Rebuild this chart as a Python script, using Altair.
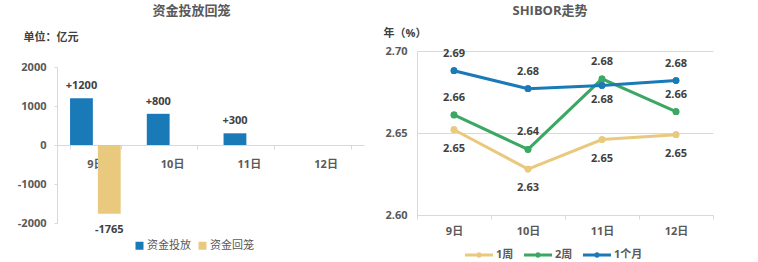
import altair as alt
import pandas as pd

# ---------------- data ----------------
dates = ["9日", "10日", "11日", "12日"]

flow_series = ["资金投放", "资金回笼"]
invest = [1200, 800, 300, None]
withdraw = [-1765, None, None, None]
flow_colors = ["#1a7ab8", "#e8c97e"]
flow_ticks = [-2000, -1000, 0, 1000, 2000]

shibor_series = ["1周", "2周", "1个月"]
week1 = [2.652, 2.628, 2.646, 2.649]
week2 = [2.661, 2.640, 2.683, 2.663]
month1 = [2.688, 2.677, 2.679, 2.682]
shibor_colors = ["#e8c97e", "#3aa862", "#1a7ab8"]
shibor_ticks = [2.60, 2.65, 2.70]

# ---------------- tables ----------------
flow_rows = []
for name, vals in zip(flow_series, [invest, withdraw]):
    for d, v in zip(dates, vals):
        if v is not None:
            flow_rows.append({"date": d, "series": name, "value": v})
flow_df = pd.DataFrame(flow_rows)

sh_rows = []
for name, vals in zip(shibor_series, [week1, week2, month1]):
    for d, v in zip(dates, vals):
        sh_rows.append({"date": d, "series": name, "value": v})
sh_df = pd.DataFrame(sh_rows)

FONT = "Open Sans, Noto Sans CJK SC"
TXT = "#595959"
LBL = "#404040"
GRID = "#d9d9d9"

# ---------------- left chart ----------------
xL = alt.X(
    "date:N", sort=dates,
    scale=alt.Scale(domain=dates, paddingInner=0.34, paddingOuter=0.17),
    axis=alt.Axis(title=None, orient="bottom", offset=-78, tickBand="extent",
                  tickSize=4, labelPadding=9, domainColor=GRID, tickColor=GRID,
                  labelAngle=0, labelFontSize=11, labelFontWeight="bold",
                  labelColor=TXT, labelFont=FONT),
)
yL = alt.Y(
    "value:Q",
    scale=alt.Scale(domain=[-2000, 2000], range=[172, 16], nice=False, zero=False),
    axis=alt.Axis(values=flow_ticks, labelExpr="'' + datum.value", grid=False,
                  tickSize=3, labelPadding=8, domainColor=GRID, tickColor=GRID,
                  labelFontSize=11, labelFontWeight="bold", labelColor=TXT,
                  labelFont=FONT,
                  title="单位：亿元", titleAngle=0, titleX=-34, titleY=-14,
                  titleAlign="left", titleBaseline="middle", titleFontSize=11,
                  titleFontWeight="bold", titleColor="#404040", titleFont=FONT),
)
xoL = alt.XOffset("series:N", sort=flow_series,
                  scale=alt.Scale(domain=flow_series, paddingInner=0.18))
colL = alt.Color(
    "series:N", sort=flow_series,
    scale=alt.Scale(domain=flow_series, range=flow_colors),
    legend=alt.Legend(title=None, orient="none", legendX=77, legendY=189,
                      direction="horizontal", symbolType="square", symbolSize=64,
                      symbolStrokeWidth=0, labelFontSize=11, labelColor=TXT,
                      labelFont=FONT, columnPadding=6, labelOffset=2),
)

base_left = alt.Chart(flow_df).transform_calculate(
    lab="datum.value > 0 ? '+' + datum.value : '' + datum.value"
)
bars = base_left.mark_bar().encode(x=xL, y=yL, xOffset=xoL, color=colL)
lab_pos = base_left.transform_filter("datum.value > 0").mark_text(
    baseline="bottom", dy=-7, fontSize=11, fontWeight="bold", color=LBL, font=FONT
).encode(x=xL, y=yL, xOffset=xoL, text="lab:N")
lab_neg = base_left.transform_filter("datum.value < 0").mark_text(
    baseline="top", dy=10, fontSize=11, fontWeight="bold", color=LBL, font=FONT
).encode(x=xL, y=yL, xOffset=xoL, text="lab:N")

left = alt.layer(bars, lab_pos, lab_neg).properties(
    width=307, height=172,
    title=alt.TitleParams("资金投放回笼", fontSize=13, fontWeight="bold",
                          color=TXT, font=FONT, dx=-19, offset=13),
)

# ---------------- right chart ----------------
xR = alt.X(
    "date:N", sort=dates, bandPosition=0.5,
    scale=alt.Scale(type="band", domain=dates, paddingInner=0, paddingOuter=0),
    axis=alt.Axis(title=None, tickBand="extent", tickSize=4, labelPadding=6,
                  domainColor=GRID, tickColor=GRID, labelAngle=0,
                  labelFontSize=11, labelFontWeight="bold", labelColor=TXT,
                  labelFont=FONT),
)
yR = alt.Y(
    "value:Q",
    scale=alt.Scale(domain=[2.60, 2.70], nice=False, zero=False),
    axis=alt.Axis(values=shibor_ticks, format=".2f", grid=True, gridColor=GRID,
                  tickSize=0, labelPadding=10, domainColor=GRID,
                  labelFontSize=11, labelFontWeight="bold", labelColor=TXT,
                  labelFont=FONT,
                  title="年（%）", titleAngle=0, titleX=-34, titleY=-18,
                  titleAlign="left", titleBaseline="middle", titleFontSize=11,
                  titleFontWeight="bold", titleColor="#404040", titleFont=FONT),
)
leg_path = ("M-1,-0.1L1,-0.1L1,0.1L-1,0.1Z "
            "M-0.2,0A0.2,0.2 0 1,1 0.2,0A0.2,0.2 0 1,1 -0.2,0Z")
colR_scale = alt.Scale(domain=shibor_series, range=shibor_colors)
colR_leg = alt.Color(
    "series:N", sort=shibor_series, scale=colR_scale,
    legend=alt.Legend(title=None, orient="none", legendX=48, legendY=190,
                      direction="horizontal", symbolType=leg_path, symbolSize=784,
                      symbolStrokeWidth=0, labelFontSize=11, labelColor=TXT,
                      labelFontWeight="bold", labelFont=FONT, columnPadding=10,
                      labelOffset=3),
)
colR = alt.Color("series:N", sort=shibor_series, scale=colR_scale, legend=None)

base_right = alt.Chart(sh_df)
pts = base_right.mark_point(filled=True, size=45, opacity=1).encode(
    x=xR, y=yR, color=colR_leg)
lines = base_right.mark_line(strokeWidth=3).encode(x=xR, y=yR, color=colR)
txt_kw = dict(fontSize=11, fontWeight="bold", color=LBL, font=FONT, baseline="middle")
t_above = base_right.transform_filter(
    "datum.series == '2周' || (datum.series == '1个月' && datum.date != '11日')"
).mark_text(dy=-17, **txt_kw).encode(x=xR, y=yR, text=alt.Text("value:Q", format=".2f"))
t_week = base_right.transform_filter("datum.series == '1周'").mark_text(
    dy=19, **txt_kw).encode(x=xR, y=yR, text=alt.Text("value:Q", format=".2f"))
t_blue = base_right.transform_filter(
    "datum.series == '1个月' && datum.date == '11日'"
).mark_text(dy=15, **txt_kw).encode(x=xR, y=yR, text=alt.Text("value:Q", format=".2f"))

right = alt.layer(pts, lines, pts, t_above, t_week, t_blue).properties(
    width=296, height=164,
    title=alt.TitleParams("SHIBOR走势", fontSize=13, fontWeight="bold",
                          color=TXT, font=FONT, dx=-15, offset=9),
)

chart = alt.hconcat(left, right, spacing=53, bounds="flush").resolve_scale(
    color="independent"
).configure(
    padding={"left": 17, "top": 5, "right": 5, "bottom": 5},
    background="white",
).configure_view(stroke=None)

chart.save("out.html", embed_options={"renderer": "svg", "actions": False})
